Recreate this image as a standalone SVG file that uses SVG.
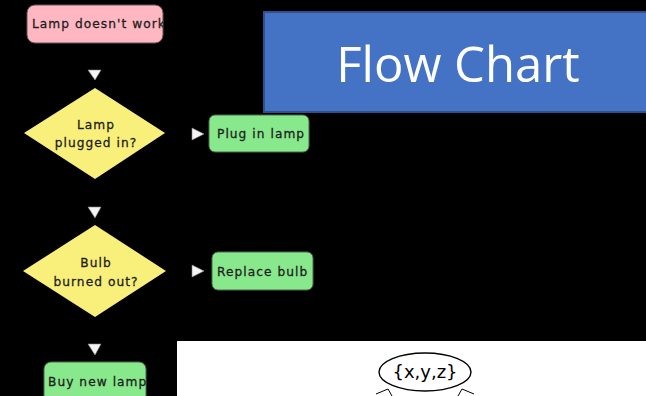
<svg xmlns="http://www.w3.org/2000/svg" width="646" height="396" viewBox="0 0 646 396">
  <style>
    .lbl { font-family: "DejaVu Sans", "Liberation Sans", sans-serif; font-size: 12.2px; font-weight: 500; fill: #1e1e1e; letter-spacing: 1.05px; stroke: #1e1e1e; stroke-width: 0.3px; }
    .mid { text-anchor: middle; }
    .term { fill: #ffb7c2; stroke: #6a5055; stroke-width: 1; }
    .act { fill: #88e88c; stroke: #4a6a4a; stroke-width: 1; }
    .dec { fill: #f9f07c; stroke: none; }
    .head { fill: #f4f4f4; stroke: #888; stroke-width: 0.6; }
    .title { font-family: "Open Sans", "Liberation Sans", sans-serif; font-size: 49px; fill: #ffffff; text-anchor: middle; }
    .tree { fill: #ffffff; stroke: #000; stroke-width: 1.4; }
    .treelbl { font-family: "DejaVu Sans", "Liberation Sans", sans-serif; font-size: 18px; fill: #000; text-anchor: middle; }
  </style>
  <defs>
    <clipPath id="clipStart"><rect x="27" y="5" width="136" height="38" rx="8"/></clipPath>
    <clipPath id="clipPlug"><rect x="209" y="115" width="100" height="37" rx="6"/></clipPath>
    <clipPath id="clipBulb"><rect x="212" y="252" width="101" height="38" rx="6"/></clipPath>
    <clipPath id="clipBuy"><rect x="44" y="362" width="102" height="50" rx="7"/></clipPath>
  </defs>

  <rect x="0" y="0" width="646" height="396" fill="#000"/>

  <!-- title banner -->
  <g id="title">
    <rect x="264" y="12" width="392" height="100" fill="#4472c4" stroke="#2f528f" stroke-width="2"/>
    <text class="title" x="458" y="82">Flow Chart</text>
  </g>

  <!-- flowchart nodes -->
  <g id="start">
    <rect class="term" x="27" y="5" width="136" height="38" rx="8"/>
    <text class="lbl" x="32" y="28" clip-path="url(#clipStart)">Lamp doesn't work</text>
  </g>

  <g id="plugged">
    <polygon class="dec" points="95,88 165,133 95,179 24,133"/>
    <text class="lbl mid" x="96" y="129">Lamp</text>
    <text class="lbl mid" x="96" y="147">plugged in?</text>
  </g>

  <g id="plug">
    <rect class="act" x="209" y="115" width="100" height="37" rx="6"/>
    <text class="lbl" x="217" y="138" clip-path="url(#clipPlug)">Plug in lamp</text>
  </g>

  <g id="burned">
    <polygon class="dec" points="95,225 166,271 95,317 23,271"/>
    <text class="lbl mid" x="96" y="267">Bulb</text>
    <text class="lbl mid" x="96" y="286">burned out?</text>
  </g>

  <g id="replace">
    <rect class="act" x="212" y="252" width="101" height="38" rx="6"/>
    <text class="lbl" x="217" y="276" clip-path="url(#clipBulb)">Replace bulb</text>
  </g>

  <g id="buy">
    <rect class="act" x="44" y="362" width="102" height="50" rx="7"/>
    <text class="lbl" x="48" y="386" clip-path="url(#clipBuy)">Buy new lamp</text>
  </g>

  <!-- connectors: only the arrowheads are visible -->
  <g id="connectors">
    <polygon class="head" points="88,70 101,70 95,80"/>
    <polygon class="head" points="88,207 101,207 95,218"/>
    <polygon class="head" points="88,344 101,344 95,355"/>
    <polygon class="head" points="192,128 192,140 204,134"/>
    <polygon class="head" points="192,265 192,277 204,271"/>
  </g>

  <!-- set tree panel -->
  <g id="tree">
    <rect x="177" y="341" width="469" height="55" fill="#ffffff"/>
    <g id="root">
      <ellipse class="tree" cx="425" cy="372" rx="46" ry="19"/>
      <text class="treelbl" x="425" y="378">{x,y,z}</text>
    </g>
    <g id="tree-edges" fill="none" stroke="#000" stroke-width="1">
      <path d="M376,394 L388,389 L392,396"/>
      <path d="M474,394 L462,389 L458,396"/>
    </g>
  </g>
</svg>
